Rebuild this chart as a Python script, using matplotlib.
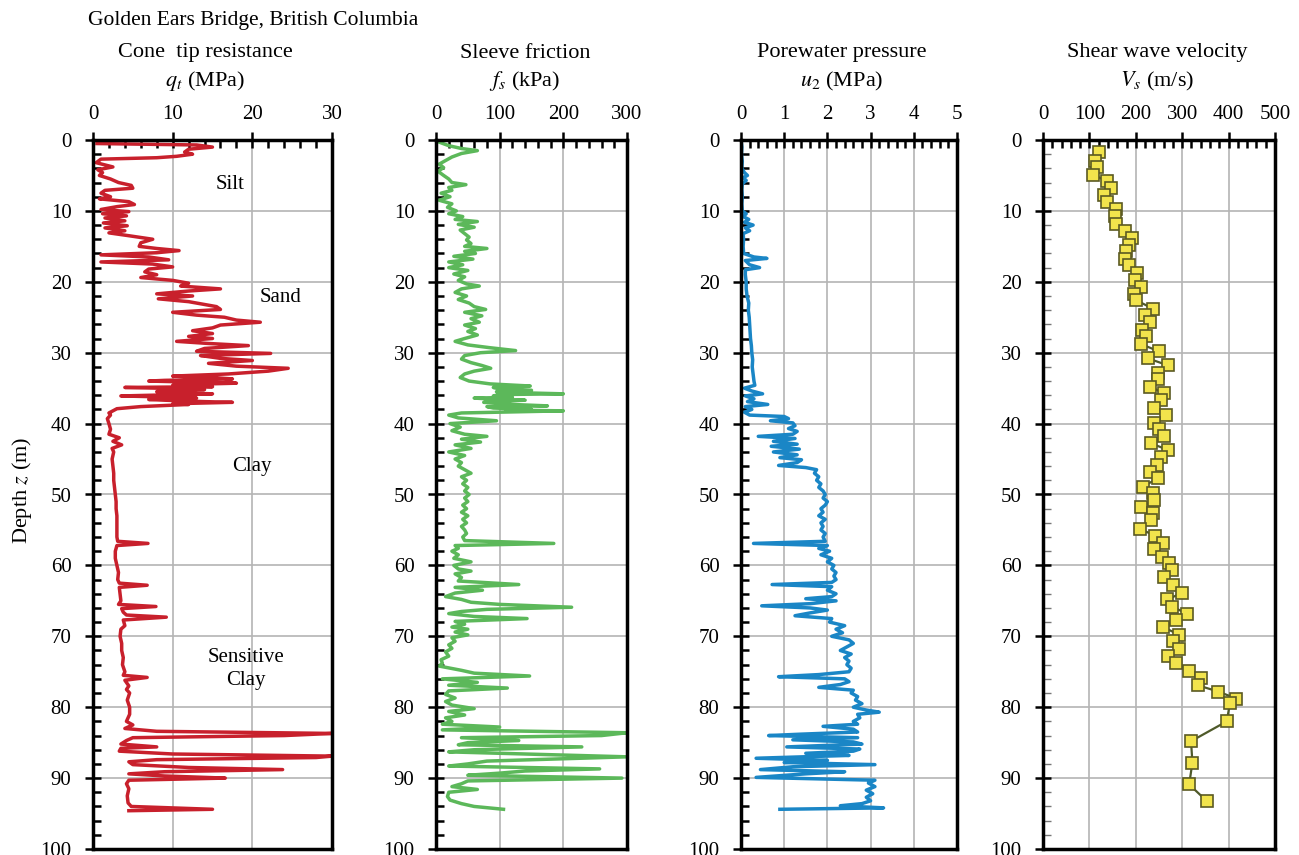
import numpy as np
import matplotlib
matplotlib.use("Agg")
import matplotlib.pyplot as plt
from matplotlib.ticker import MultipleLocator

plt.rcParams['font.family'] = ['Liberation Serif', 'DejaVu Serif']
plt.rcParams['mathtext.fontset'] = 'stix'

# cone tip resistance q_t (MPa) vs depth (m)
qt_points = [
    (0.5, 0.5), (0.7, 13.0), (1.0, 15.0), (1.3, 12.0), (1.7, 11.5), (2.0, 12.5), (2.3, 10.5),
    (2.5, 8.0), (2.7, 1.0), (3.2, 0.4), (3.8, 2.5), (4.2, 0.6), (4.6, 1.2), (5.0, 0.8),
    (5.5, 2.2), (6.0, 3.2), (6.4, 4.8), (6.8, 5.0), (7.1, 1.5), (7.5, 1.0), (8.0, 2.2),
    (8.3, 0.8), (8.7, 4.5), (9.1, 5.2), (9.4, 3.0), (9.8, 1.0), (10.1, 4.5), (10.4, 1.2),
    (10.7, 4.2), (11.0, 1.5), (11.4, 4.0), (11.7, 1.3), (12.1, 4.3), (12.4, 1.5), (12.8, 4.0),
    (13.1, 2.0), (13.5, 4.5), (14.0, 7.5), (14.5, 6.0), (15.0, 5.8), (15.3, 8.0), (15.6, 10.8),
    (15.9, 8.0), (16.2, 1.0), (16.5, 7.0), (16.9, 9.5), (17.2, 1.0), (17.5, 7.5), (17.9, 10.0),
    (18.2, 7.0), (18.6, 6.5), (19.0, 8.0), (19.4, 6.0), (19.8, 10.0), (20.2, 12.0), (20.6, 11.0),
    (21.0, 16.0), (21.3, 12.0), (21.7, 8.0), (22.0, 12.5), (22.4, 8.2), (22.8, 12.0), (23.1, 13.5),
    (23.5, 15.5), (23.9, 16.0), (24.3, 10.0), (24.7, 13.0), (25.0, 16.5), (25.4, 18.0), (25.7, 21.0),
    (26.1, 16.0), (26.5, 15.0), (26.9, 12.5), (27.3, 15.0), (27.7, 12.0), (28.0, 15.0), (28.4, 10.5),
    (28.7, 14.5), (29.0, 19.5), (29.4, 14.0), (29.8, 13.0), (30.1, 22.3), (30.4, 13.5), (30.8, 16.0),
    (31.1, 20.0), (31.5, 14.5), (31.9, 18.0), (32.2, 24.5), (32.6, 22.0), (33.0, 17.0), (33.3, 10.0),
    (33.5, 15.0), (33.7, 17.5), (33.9, 9.0), (34.0, 7.0), (34.2, 14.0), (34.3, 18.0), (34.5, 11.0),
    (34.6, 10.0), (34.8, 15.0), (34.9, 4.0), (35.1, 12.0), (35.2, 14.0), (35.4, 9.0), (35.5, 8.0),
    (35.7, 12.0), (35.8, 15.0), (36.0, 7.0), (36.1, 3.5), (36.3, 11.0), (36.4, 13.0), (36.6, 7.0),
    (36.7, 9.0), (36.9, 14.0), (37.0, 17.5), (37.2, 10.0), (37.3, 12.0), (37.5, 8.0), (37.6, 6.0),
    (37.9, 3.0), (38.2, 2.5), (38.5, 2.0), (38.8, 2.2), (39.3, 1.8), (40.0, 2.0), (40.8, 2.2),
    (41.5, 2.0), (42.0, 3.3), (42.5, 2.5), (43.0, 3.6), (43.5, 2.4), (44.0, 2.6), (45.0, 2.4),
    (46.0, 2.5), (47.0, 2.6), (48.0, 2.6), (49.0, 2.7), (50.0, 2.8), (51.0, 2.9), (52.0, 2.9),
    (53.0, 3.0), (54.0, 3.0), (55.0, 3.0), (56.0, 3.0), (56.6, 3.1), (56.9, 6.9), (57.2, 3.0),
    (58.0, 2.8), (59.0, 2.8), (60.0, 3.0), (61.0, 3.2), (62.0, 3.1), (62.5, 3.3), (62.8, 6.8),
    (63.1, 3.3), (64.0, 3.4), (65.0, 3.5), (65.5, 3.2), (65.8, 7.9), (66.1, 3.6), (66.6, 3.8),
    (67.0, 4.2), (67.3, 9.2), (67.7, 3.8), (68.5, 4.0), (69.0, 3.5), (70.0, 3.4), (71.0, 3.6),
    (72.0, 3.6), (73.0, 3.8), (74.0, 3.7), (75.0, 4.0), (75.5, 3.8), (75.8, 6.8), (76.2, 4.0),
    (77.0, 4.5), (77.5, 4.2), (78.0, 4.6), (79.0, 4.3), (80.0, 4.6), (81.0, 4.6), (82.0, 4.2),
    (82.5, 5.0), (83.0, 4.0), (83.4, 8.0), (83.7, 30.0), (84.0, 24.0), (84.3, 5.0), (84.7, 4.2),
    (85.2, 3.5), (85.6, 8.0), (85.8, 3.5), (86.2, 3.3), (86.6, 10.0), (86.9, 30.0), (87.1, 28.0),
    (87.4, 8.0), (87.7, 4.5), (88.1, 5.0), (88.5, 12.0), (88.8, 23.8), (89.1, 9.0), (89.4, 4.5),
    (89.7, 9.0), (90.0, 16.6), (90.3, 4.5), (90.8, 4.2), (91.5, 4.5), (92.5, 4.3), (93.5, 4.4),
    (94.0, 4.8), (94.4, 15.0), (94.6, 4.5),
]

# sleeve friction f_s (kPa) vs depth (m)
fs_points = [
    (0.3, 5), (0.8, 20), (1.2, 40), (1.5, 65), (1.9, 40), (2.4, 25), (2.9, 15), (3.4, 5),
    (3.9, 12), (4.4, 3), (5.0, 12), (5.5, 20), (6.0, 25), (6.3, 47), (6.7, 20), (7.1, 25),
    (7.5, 8), (8.0, 22), (8.5, 5), (9.0, 25), (9.5, 18), (10.0, 32), (10.4, 20), (10.8, 42),
    (11.2, 30), (11.5, 65), (11.9, 35), (12.3, 60), (12.7, 38), (13.2, 45), (13.7, 52), (14.1, 48),
    (14.6, 55), (15.0, 45), (15.3, 80), (15.7, 45), (16.0, 62), (16.4, 28), (16.8, 58), (17.2, 20),
    (17.6, 42), (18.0, 20), (18.4, 50), (18.9, 28), (19.3, 45), (19.8, 35), (20.3, 48), (20.6, 68),
    (21.0, 40), (21.5, 30), (22.0, 48), (22.5, 35), (23.0, 52), (23.5, 60), (23.9, 78), (24.3, 45),
    (24.8, 72), (25.2, 55), (25.7, 68), (26.1, 45), (26.6, 62), (27.0, 50), (27.5, 65), (28.0, 45),
    (28.4, 30), (28.9, 50), (29.3, 85), (29.7, 125), (30.0, 70), (30.4, 45), (30.9, 40), (31.4, 55),
    (31.8, 72), (32.2, 86), (32.6, 60), (33.0, 45), (33.5, 38), (34.0, 52), (34.4, 85), (34.7, 148),
    (34.9, 90), (35.0, 95), (35.2, 130), (35.3, 150), (35.5, 95), (35.6, 110), (35.8, 200),
    (35.9, 100), (36.1, 90), (36.3, 120), (36.4, 60), (36.6, 100), (36.7, 140), (36.9, 85),
    (37.0, 75), (37.2, 110), (37.3, 120), (37.5, 175), (37.6, 80), (37.8, 90), (38.0, 150),
    (38.1, 110), (38.2, 200), (38.5, 40), (38.8, 20), (39.2, 35), (39.6, 95), (40.0, 22), (40.5, 38),
    (41.0, 25), (41.5, 45), (41.8, 80), (42.2, 40), (42.6, 70), (43.0, 30), (43.5, 55), (44.0, 20),
    (44.5, 45), (45.0, 30), (45.5, 40), (46.0, 35), (46.5, 45), (47.0, 55), (47.5, 40), (48.0, 48),
    (48.5, 42), (49.0, 50), (49.5, 45), (50.0, 52), (50.5, 45), (51.0, 50), (51.5, 42), (52.0, 48),
    (52.5, 40), (53.0, 50), (53.5, 42), (54.0, 48), (54.5, 40), (55.0, 45), (55.5, 48), (56.0, 42),
    (56.5, 45), (56.9, 185), (57.2, 30), (57.6, 35), (58.0, 25), (58.5, 35), (59.0, 28), (59.5, 55),
    (60.0, 28), (60.5, 35), (60.8, 55), (61.2, 30), (61.7, 40), (62.2, 35), (62.7, 130), (63.1, 30),
    (63.5, 73), (63.9, 30), (64.4, 15), (64.8, 40), (65.2, 55), (65.5, 100), (65.9, 213), (66.2, 80),
    (66.5, 40), (66.8, 20), (67.2, 60), (67.5, 143), (67.9, 30), (68.3, 45), (68.7, 25), (69.0, 50),
    (69.4, 30), (69.8, 50), (70.2, 25), (70.7, 30), (71.2, 20), (71.7, 25), (72.2, 15), (72.8, 20),
    (73.3, 8), (73.8, 10), (74.2, 5), (74.8, 40), (75.2, 60), (75.6, 147), (76.0, 10), (76.5, 65),
    (76.9, 20), (77.3, 112), (77.7, 20), (78.2, 15), (78.7, 30), (79.2, 15), (79.7, 25), (80.2, 60),
    (80.6, 20), (81.1, 45), (81.5, 15), (82.0, 25), (82.4, 10), (82.8, 100), (83.2, 10), (83.6, 300),
    (84.0, 260), (84.3, 40), (84.7, 130), (85.0, 50), (85.3, 35), (85.6, 229), (86.0, 60), (86.3, 20),
    (86.7, 180), (87.0, 300), (87.3, 190), (87.6, 80), (88.0, 50), (88.3, 20), (88.7, 257), (89.0, 140),
    (89.3, 100), (89.6, 50), (90.0, 292), (90.4, 50), (90.8, 40), (91.2, 25), (91.6, 65), (92.0, 20),
    (92.6, 18), (93.1, 22), (93.6, 40), (94.0, 60), (94.4, 106),
]

# porewater pressure u_2 (MPa) vs depth (m)
u2_points = [
    (0.0, 0.0), (1.0, 0.02), (2.0, 0.01), (3.0, 0.03), (4.0, 0.02), (4.6, 0.08), (5.0, 0.15),
    (5.3, 0.05), (5.7, 0.12), (6.2, 0.03), (7.0, 0.02), (8.0, 0.03), (9.0, 0.02), (10.0, 0.03),
    (10.4, 0.12), (10.8, 0.05), (11.2, 0.18), (11.6, 0.08), (12.0, 0.28), (12.4, 0.1), (12.8, 0.2),
    (13.2, 0.05), (14.0, 0.06), (15.0, 0.05), (16.0, 0.06), (16.5, 0.3), (16.7, 0.6), (17.0, 0.1),
    (17.6, 0.2), (18.0, 0.43), (18.3, 0.1), (19.0, 0.1), (20.0, 0.12), (21.0, 0.12), (22.0, 0.14),
    (23.0, 0.18), (24.0, 0.17), (25.0, 0.19), (26.0, 0.2), (27.0, 0.21), (28.0, 0.22), (29.0, 0.24),
    (30.0, 0.25), (31.0, 0.27), (32.0, 0.26), (33.0, 0.28), (34.0, 0.3), (34.6, 0.32), (35.0, 0.08),
    (35.4, 0.25), (35.8, 0.5), (36.1, 0.1), (36.5, 0.3), (36.9, 0.15), (37.3, 0.62), (37.6, 0.1),
    (38.0, 0.25), (38.4, 0.08), (38.8, 0.2), (39.0, 1.0), (39.3, 1.1), (39.6, 0.68), (39.9, 1.2),
    (40.3, 1.25), (40.7, 1.1), (41.1, 1.3), (41.5, 1.2), (41.8, 0.4), (42.1, 1.25), (42.5, 0.75),
    (42.9, 1.3), (43.2, 0.7), (43.6, 1.35), (44.0, 0.75), (44.4, 1.3), (44.8, 0.9), (45.1, 1.4),
    (45.5, 1.3), (45.9, 0.87), (46.2, 1.5), (46.5, 1.75), (47.0, 1.7), (47.5, 1.8), (48.0, 1.75),
    (48.5, 1.85), (49.0, 1.8), (49.5, 1.9), (50.0, 1.95), (50.5, 1.9), (51.0, 2.0), (51.5, 1.95),
    (52.0, 1.85), (52.5, 1.9), (53.0, 1.8), (53.5, 1.95), (54.0, 1.85), (54.5, 1.9), (55.0, 1.85),
    (55.5, 1.95), (56.0, 1.9), (56.6, 1.95), (56.9, 0.29), (57.2, 2.0), (57.6, 1.8), (58.0, 2.05),
    (58.5, 1.85), (59.0, 2.1), (59.5, 2.0), (60.0, 2.15), (60.5, 2.1), (61.0, 2.2), (61.5, 2.15),
    (62.0, 2.2), (62.4, 2.1), (62.7, 0.72), (63.0, 2.1), (63.5, 2.0), (64.0, 2.2), (64.4, 2.1),
    (64.7, 1.5), (65.0, 2.2), (65.4, 1.6), (65.7, 0.48), (66.0, 1.6), (66.3, 2.0), (66.7, 1.6),
    (67.1, 1.25), (67.5, 2.1), (68.0, 2.05), (68.5, 2.4), (69.0, 2.2), (69.5, 2.35), (70.0, 2.1),
    (70.5, 2.5), (71.0, 2.6), (71.5, 2.45), (72.0, 2.3), (72.5, 2.55), (73.0, 2.4), (73.5, 2.5),
    (74.0, 2.45), (74.5, 2.55), (75.0, 2.5), (75.4, 1.8), (75.7, 0.87), (76.0, 2.4), (76.4, 2.5),
    (76.8, 2.3), (77.2, 1.8), (77.6, 2.6), (78.0, 2.55), (78.5, 2.7), (79.0, 2.65), (79.5, 2.8),
    (80.0, 2.6), (80.4, 2.9), (80.7, 3.2), (81.0, 2.7), (81.5, 2.75), (82.0, 2.6), (82.4, 2.7),
    (82.7, 1.9), (83.1, 2.6), (83.5, 2.7), (83.8, 1.4), (84.0, 0.64), (84.3, 2.7), (84.6, 1.2),
    (84.9, 2.6), (85.2, 2.8), (85.6, 1.06), (85.9, 2.75), (86.2, 2.6), (86.5, 1.5), (86.8, 2.5),
    (87.2, 0.35), (87.5, 2.0), (87.8, 1.0), (88.1, 3.1), (88.4, 1.2), (88.8, 0.45), (89.1, 2.4),
    (89.4, 1.5), (89.9, 0.35), (90.3, 3.1), (90.7, 2.95), (91.2, 3.1), (91.7, 2.9), (92.2, 3.05),
    (92.7, 2.9), (93.2, 3.0), (93.6, 2.8), (93.9, 2.3), (94.2, 3.3), (94.4, 0.9),
]

# shear wave velocity V_s (m/s) from seismic cone
vs_depth = [1.7, 2.9, 3.8, 4.9, 5.8, 6.8, 7.8, 8.7, 9.7, 10.7, 11.8, 12.8, 13.8, 14.8, 15.7,
            16.8, 17.7, 18.7, 19.7, 20.7, 21.7, 22.6, 23.8, 24.7, 25.7, 26.8, 27.7, 28.8, 29.8,
            30.8, 31.8, 32.8, 33.7, 34.8, 35.7, 36.7, 37.8, 38.8, 39.9, 40.8, 41.8, 42.8, 43.7,
            44.7, 45.8, 46.8, 47.7, 48.9, 49.8, 50.8, 51.8, 52.6, 53.6, 54.9, 55.8, 56.8, 57.7,
            58.8, 59.7, 60.7, 61.7, 62.7, 63.9, 64.8, 65.8, 66.8, 67.7, 68.7, 69.8, 70.7, 71.8,
            72.8, 73.8, 74.9, 75.9, 76.9, 77.8, 78.8, 79.4, 82.0, 84.8, 87.8, 90.9, 93.3]
vs_value = [120, 111, 117, 108, 138, 147, 132, 139, 158, 156, 158, 176, 192, 185, 179,
            177, 185, 202, 199, 212, 197, 201, 237, 220, 231, 214, 222, 212, 249,
            226, 270, 248, 248, 230, 261, 254, 240, 265, 240, 250, 261, 233, 269,
            254, 245, 231, 248, 215, 237, 240, 212, 237, 233, 210, 242, 258, 240,
            256, 272, 278, 261, 280, 299, 268, 278, 310, 286, 259, 294, 281, 293,
            270, 287, 315, 340, 333, 378, 417, 403, 396, 319, 322, 315, 354]

qt_depth, qt_value = np.array(qt_points).T
fs_depth, fs_value = np.array(fs_points).T
u2_depth, u2_value = np.array(u2_points).T

soil_labels = [("Silt", 17.2, 6.3), ("Sand", 23.6, 22.2), ("Clay", 20.0, 46.0),
               ("Sensitive\nClay", 19.2, 74.6)]

W, H = 1299, 855
fig = plt.figure(figsize=(W / 100, H / 100), dpi=100)

# pixel boxes (left, right) of each panel; all share top=140, bottom=849
boxes = [(93, 332), (436, 627), (741, 957), (1043, 1275)]
top, bot = 140, 849
axes = []
for l, r in boxes:
    ax = fig.add_axes([l / W, (H - bot) / H, (r - l) / W, (bot - top) / H])
    axes.append(ax)

panels = [
    ("Cone  tip resistance", "$q_t$ (MPa)", 30, 10, 2, 205),
    ("Sleeve friction", "$f_s$ (kPa)", 300, 100, 20, 525),
    ("Porewater pressure", "$u_2$ (MPa)", 5, 1, 0.2, 842),
    ("Shear wave velocity", "$V_s$ (m/s)", 500, 100, 20, 1157),
]

for ax, (ttl, unit, xmax, major, minor, cx) in zip(axes, panels):
    ax.set_xlim(0, xmax)
    ax.set_ylim(100, 0)
    ax.xaxis.tick_top()
    ax.xaxis.set_major_locator(MultipleLocator(major))
    ax.xaxis.set_minor_locator(MultipleLocator(minor))
    ax.yaxis.set_major_locator(MultipleLocator(10))
    ax.yaxis.set_minor_locator(MultipleLocator(2))
    ax.grid(True, which='major', color='#b4b4b4', lw=1.2)
    ax.set_axisbelow(True)
    for sp in ax.spines.values():
        sp.set_linewidth(2.5)
    ax.tick_params(which='major', direction='inout', length=11, width=1.8,
                   labelsize=15, pad=6)
    ax.tick_params(which='minor', direction='in', length=6, width=1.8)
    ax.tick_params(axis='y', which='major', pad=10)
    fig.text(cx / W, 1 - 53 / H, ttl, ha='center', va='center', fontsize=16)
    fig.text(cx / W, 1 - 81 / H, unit, ha='center', va='center', fontsize=16)

axes[0].plot(qt_value, qt_depth, color='#c8202c', lw=2.5)
for txt, x, y in soil_labels:
    axes[0].text(x, y, txt, ha='center', va='center', fontsize=15, linespacing=1.3)

axes[1].plot(fs_value, fs_depth, color='#5cb85a', lw=2.5)
axes[2].plot(u2_value, u2_depth, color='#1a86c6', lw=2.5)
axes[3].plot(vs_value, vs_depth, color='#4f5a2a', lw=1.6, marker='s', ms=8.5,
             mfc='#f2e44c', mec='#5b5a22', mew=1.2)
axes[3].tick_params(axis='y', which='minor', width=1.0, color='#777777')

fig.text(88 / W, 1 - 20 / H, "Golden Ears Bridge, British Columbia", ha='left',
         va='center', fontsize=15.5)
fig.text(22 / W, 1 - 490 / H, "Depth $z$ (m)", rotation=90, ha='center', va='center',
         fontsize=16)

fig.savefig("out.png", dpi=100)
